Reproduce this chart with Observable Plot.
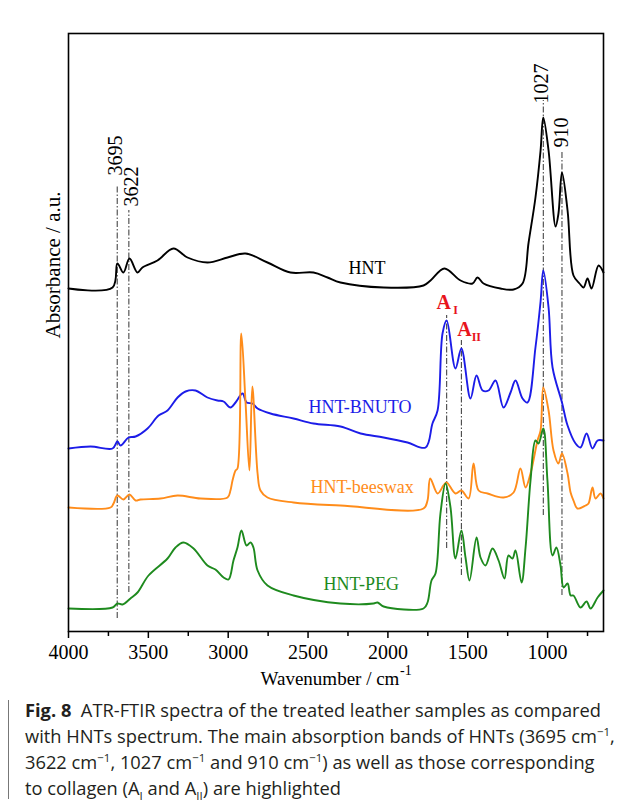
<!DOCTYPE html>
<html><head><meta charset="utf-8">
<script src="https://cdn.jsdelivr.net/npm/d3@7"></script>
<script src="https://cdn.jsdelivr.net/npm/@observablehq/plot@0.6"></script>
<style>
body{margin:0;background:#fff;width:622px;height:803px;overflow:hidden;position:relative;}
#border{position:absolute;left:8px;top:13px;width:700px;height:785px;border-left:1.5px solid #777;border-top:1.5px solid #777;border-top-left-radius:10px;}
#chart{position:absolute;left:0;top:0;}
#caption{position:absolute;left:25px;top:697px;font-family:"Open Sans";font-size:18.3px;line-height:26px;color:#231f20;white-space:nowrap;}
#caption sup,#caption sub{font-size:11.5px;line-height:0;}
</style></head><body>
<div id="border"></div>
<div id="chart"></div>
<div id="caption"><b>Fig. 8</b>&nbsp; ATR-FTIR spectra of the treated leather samples as compared<br>with HNTs spectrum. The main absorption bands of HNTs (3695 cm<sup>−1</sup>,<br>3622 cm<sup>−1</sup>, 1027 cm<sup>−1</sup> and 910 cm<sup>−1</sup>) as well as those corresponding<br>to collagen (A<sub>I</sub> and A<sub>II</sub>) are highlighted</div>
<script>
// ---- data (wavenumber in cm-1, absorbance in a.u., spectra offset as plotted) ----
const hntWn  = [4000,3724,3694,3656,3618,3568,3537,3443,3343,3255,3130,3004,2892,2754,2610,2466,2378,2297,2027,1777,1733,1646,1545,1470,1439,1401,1295,1213,1157,1119,1076,1044,1027,994,950,932,910,875,838,800,775,750,725,681,650];
const hntAbs = [3.43,3.44,3.68,3.59,3.73,3.59,3.64,3.71,3.83,3.74,3.69,3.74,3.78,3.69,3.59,3.59,3.54,3.49,3.44,3.46,3.51,3.63,3.51,3.48,3.54,3.48,3.43,3.42,3.48,3.89,4.34,4.81,5.14,4.81,4.05,4.18,4.59,4.21,3.56,3.48,3.44,3.53,3.43,3.66,3.59];

const bnutoWn  = [4000,3862,3724,3694,3674,3624,3580,3505,3436,3380,3317,3267,3205,3130,3067,3029,2986,2954,2910,2885,2848,2816,2735,2591,2466,2297,2171,2027,1877,1764,1721,1689,1658,1632,1577,1540,1483,1445,1407,1370,1326,1276,1232,1201,1157,1126,1076,1044,1027,994,969,910,875,825,794,756,719,687,650];
const bnutoAbs = [1.83,1.85,1.83,1.90,1.86,1.94,1.95,2.03,2.16,2.21,2.34,2.40,2.41,2.34,2.31,2.30,2.24,2.29,2.38,2.29,2.28,2.23,2.18,2.13,2.08,2.05,1.98,1.94,1.89,1.84,2.08,2.21,2.98,3.11,2.63,2.83,2.33,2.56,2.41,2.41,2.51,2.24,2.39,2.51,2.33,2.29,2.84,3.30,3.61,3.24,2.64,2.29,2.06,1.88,1.84,1.98,1.83,1.91,1.91];

const beeswaxWn  = [4000,3737,3718,3694,3656,3618,3580,3549,3424,3317,3173,3004,2986,2973,2954,2942,2918,2892,2867,2849,2816,2798,2754,2591,2297,1777,1752,1735,1689,1652,1632,1577,1540,1495,1464,1432,1376,1276,1213,1170,1138,1107,1063,1044,1027,994,963,932,910,875,856,838,813,762,744,719,700,669,650];
const beeswaxAbs = [1.24,1.24,1.28,1.36,1.32,1.37,1.31,1.32,1.33,1.36,1.33,1.34,1.41,1.51,1.61,1.63,2.98,2.31,1.61,2.45,1.58,1.41,1.34,1.29,1.26,1.23,1.31,1.53,1.38,1.46,1.49,1.38,1.41,1.33,1.68,1.41,1.38,1.34,1.39,1.63,1.44,1.58,1.91,2.01,2.44,2.21,1.81,1.68,1.78,1.58,1.39,1.31,1.23,1.26,1.28,1.44,1.33,1.38,1.33];

const pegWn  = [4000,3724,3694,3662,3612,3568,3499,3380,3330,3280,3217,3130,3080,3029,2998,2967,2942,2917,2885,2860,2842,2816,2754,2591,2297,2090,2065,2027,1777,1752,1727,1702,1671,1639,1608,1577,1540,1514,1489,1445,1420,1389,1345,1307,1270,1245,1220,1201,1163,1138,1107,1076,1057,1027,1001,969,945,919,900,875,856,838,794,756,731,687,650];
const pegAbs = [0.23,0.24,0.28,0.27,0.33,0.39,0.56,0.73,0.84,0.89,0.83,0.66,0.62,0.54,0.52,0.71,0.84,1.01,0.86,0.89,0.84,0.61,0.46,0.36,0.28,0.28,0.29,0.25,0.23,0.29,0.51,0.58,1.18,1.48,1.24,0.73,1.01,0.74,0.51,0.94,0.74,0.66,0.83,0.71,0.53,0.76,0.73,0.81,0.49,0.84,1.51,1.91,1.88,2.03,1.51,0.76,0.84,0.66,0.44,0.48,0.36,0.36,0.24,0.30,0.23,0.34,0.41];

const seriesNames = ["HNT","HNT-BNUTO","HNT-beeswax","HNT-PEG"];
const seriesLabelWn  = [2247, 2497, 2485, 2403];
const seriesLabelAbs = [3.58, 2.19, 1.39, 0.42];

// HNT bands
const bandWn     = [3695, 3622, 1027, 910];
const bandText   = ["3695","3622","1027","910"];
const bandTop    = [4.46, 4.21, 5.31, 4.81];
const bandBottom = [0.13, 0.39, 1.16, 0.36];
const bandLabelAbs = [4.76, 4.45, 5.48, 4.99];

// collagen amide bands
const amideWn     = [1632, 1540];
const amideSub    = ["I","II"];
const amideTop    = [3.16, 2.91];
const amideBottom = [0.83, 0.56];
const amideLabelAbs = [3.23, 2.96];

const xMajor = [4000,3500,3000,2500,2000,1500,1000];
const xMinor = [3750,3250,2750,2250,1750,1250,750];

// ---- build ----
const colors = ["#000000","#1c1ce8","#ff8c1a","#1e8a1e"];
const specs = [[hntWn,hntAbs],[bnutoWn,bnutoAbs],[beeswaxWn,beeswaxAbs],[pegWn,pegAbs]];
const lines = specs.map(([w,a],k) => Plot.line(w.map((x,i)=>({wn:x, ab:a[i]})),
  {x:"wn", y:"ab", stroke:colors[k], strokeWidth:1.9, curve:"catmull-rom"}));
const seriesLabels = seriesNames.map((n,k) => Plot.text([{wn:seriesLabelWn[k], ab:seriesLabelAbs[k], t:n}],
  {x:"wn", y:"ab", text:"t", fill:colors[k], fontSize:18, textAnchor:"start", lineAnchor:"bottom"}));
const bands = bandWn.map((w,i)=>({wn:w, top:bandTop[i], bottom:bandBottom[i], lab:bandLabelAbs[i], t:bandText[i]}));
const bandDx = [-2, 3, -2, 0];
const amides = amideWn.map((w,i)=>({wn:w, top:amideTop[i], bottom:amideBottom[i], lab:amideLabelAbs[i], sub:amideSub[i]}));
const amideDx = [-3, 3];
const amideSubDx = [9, 15];

const chart = Plot.plot({
  width: 622, height: 700,
  marginLeft: 68, marginRight: 19, marginTop: 33, marginBottom: 69,
  x: {domain: [4000, 650], label: null},
  y: {domain: [0, 5.98], axis: null},
  style: {fontFamily: "Liberation Serif", background: "white", color: "#000"},
  marks: [
    Plot.ruleX(bands, {x:"wn", y1:"bottom", y2:"top", stroke:"#333", strokeWidth:1, strokeDasharray:"6,2,1.5,2"}),
    Plot.ruleX(amides, {x:"wn", y1:"bottom", y2:"top", stroke:"#333", strokeWidth:1, strokeDasharray:"6,2,1.5,2"}),
    ...lines,
    Plot.frame({stroke:"#000", strokeWidth:1.6}),
    Plot.axisX({ticks: xMajor, tickSize: 7, tickPadding: 6, fontSize: 20, tickFormat: "d", label: null, strokeWidth: 1.5}),
    Plot.axisX({ticks: xMinor, tickSize: 5, text: null, label: null, strokeWidth: 1.5}),
    ...bands.map((b,i)=>Plot.text([b], {x:"wn", y:"lab", text:"t", rotate:-90, fontSize:20, dx:bandDx[i]})),
    ...amides.map((a,i)=>Plot.text([a], {x:"wn", y:"lab", text:()=>"A", fontSize:20, fontWeight:"bold", fill:"#e8141c", lineAnchor:"bottom", dx:amideDx[i]})),
    ...amides.map((a,i)=>Plot.text([a], {x:"wn", y:"lab", text:"sub", fontSize:12, fontWeight:"bold", fill:"#e8141c", lineAnchor:"bottom", dx:amideSubDx[i], dy:5})),
    ...seriesLabels,
    Plot.text(["Absorbance / a.u."], {frameAnchor:"left", rotate:-90, dx:-15, dy:6, fontSize:21}),
    Plot.text(["Wavenumber / cm"], {frameAnchor:"bottom", dy:53, dx:-6, lineAnchor:"bottom", fontSize:19}),
    Plot.text(["-1"], {frameAnchor:"bottom", dy:43, dx:64, lineAnchor:"bottom", textAnchor:"start", fontSize:14})
  ]
});
document.getElementById("chart").appendChild(chart);
</script>
</body></html>
